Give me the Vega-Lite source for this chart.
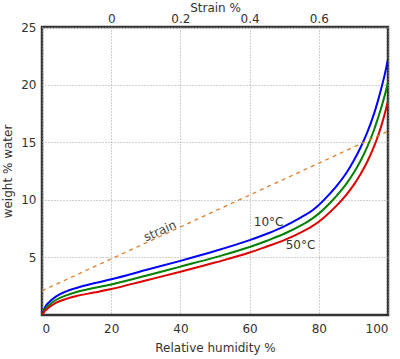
{
  "$schema": "https://vega.github.io/schema/vega-lite/v6.json",
  "autosize": {"type": "none"},
  "padding": {"left": 42, "top": 27, "right": 12, "bottom": 44},
  "width": 346,
  "height": 288,
  "background": "white",
  "config": {
    "font": "DejaVu Sans",
    "view": {"stroke": "#333333", "strokeWidth": 2.5},
    "axis": {
      "labelFont": "DejaVu Sans",
      "titleFont": "DejaVu Sans",
      "labelFontSize": 12,
      "titleFontSize": 12,
      "labelColor": "#333333",
      "titleColor": "#333333",
      "titleFontWeight": "normal",
      "domain": false,
      "ticks": false,
      "gridColor": "#a0a0a0",
      "gridDash": [1, 2],
      "gridWidth": 1
    }
  },
  "datasets": {
    "curves": [
      {"rh": 0, "w": 0, "t": "10"}, {"rh": 1, "w": 0.75, "t": "10"}, {"rh": 2, "w": 1.1, "t": "10"}, {"rh": 4, "w": 1.6, "t": "10"}, {"rh": 7, "w": 2.05, "t": "10"}, {"rh": 10, "w": 2.35, "t": "10"}, {"rh": 15, "w": 2.75, "t": "10"}, {"rh": 20, "w": 3.1, "t": "10"}, {"rh": 30, "w": 3.9, "t": "10"}, {"rh": 40, "w": 4.7, "t": "10"}, {"rh": 50, "w": 5.55, "t": "10"}, {"rh": 60, "w": 6.5, "t": "10"}, {"rh": 65, "w": 7.05, "t": "10"}, {"rh": 70, "w": 7.7, "t": "10"}, {"rh": 75, "w": 8.5, "t": "10"}, {"rh": 78, "w": 9.05, "t": "10"}, {"rh": 80, "w": 9.55, "t": "10"}, {"rh": 82, "w": 10.15, "t": "10"}, {"rh": 85, "w": 11.15, "t": "10"}, {"rh": 88, "w": 12.35, "t": "10"}, {"rh": 90, "w": 13.35, "t": "10"}, {"rh": 92, "w": 14.5, "t": "10"}, {"rh": 94, "w": 15.85, "t": "10"}, {"rh": 96, "w": 17.5, "t": "10"}, {"rh": 97, "w": 18.5, "t": "10"}, {"rh": 98, "w": 19.6, "t": "10"}, {"rh": 99, "w": 20.8, "t": "10"}, {"rh": 100, "w": 22.2, "t": "10"},
      {"rh": 0, "w": 0, "t": "30"}, {"rh": 1, "w": 0.55, "t": "30"}, {"rh": 2, "w": 0.85, "t": "30"}, {"rh": 4, "w": 1.3, "t": "30"}, {"rh": 7, "w": 1.7, "t": "30"}, {"rh": 10, "w": 2.0, "t": "30"}, {"rh": 15, "w": 2.35, "t": "30"}, {"rh": 20, "w": 2.65, "t": "30"}, {"rh": 30, "w": 3.4, "t": "30"}, {"rh": 40, "w": 4.2, "t": "30"}, {"rh": 50, "w": 5.0, "t": "30"}, {"rh": 60, "w": 5.9, "t": "30"}, {"rh": 65, "w": 6.45, "t": "30"}, {"rh": 70, "w": 7.05, "t": "30"}, {"rh": 75, "w": 7.8, "t": "30"}, {"rh": 78, "w": 8.35, "t": "30"}, {"rh": 80, "w": 8.8, "t": "30"}, {"rh": 82, "w": 9.35, "t": "30"}, {"rh": 85, "w": 10.3, "t": "30"}, {"rh": 88, "w": 11.4, "t": "30"}, {"rh": 90, "w": 12.3, "t": "30"}, {"rh": 92, "w": 13.35, "t": "30"}, {"rh": 94, "w": 14.6, "t": "30"}, {"rh": 96, "w": 16.1, "t": "30"}, {"rh": 97, "w": 17.0, "t": "30"}, {"rh": 98, "w": 17.95, "t": "30"}, {"rh": 99, "w": 19.0, "t": "30"}, {"rh": 100, "w": 20.2, "t": "30"},
      {"rh": 0, "w": 0, "t": "50"}, {"rh": 1, "w": 0.4, "t": "50"}, {"rh": 2, "w": 0.65, "t": "50"}, {"rh": 4, "w": 1.05, "t": "50"}, {"rh": 7, "w": 1.4, "t": "50"}, {"rh": 10, "w": 1.65, "t": "50"}, {"rh": 15, "w": 1.95, "t": "50"}, {"rh": 20, "w": 2.25, "t": "50"}, {"rh": 30, "w": 3.0, "t": "50"}, {"rh": 40, "w": 3.75, "t": "50"}, {"rh": 50, "w": 4.55, "t": "50"}, {"rh": 60, "w": 5.42, "t": "50"}, {"rh": 65, "w": 5.95, "t": "50"}, {"rh": 70, "w": 6.5, "t": "50"}, {"rh": 75, "w": 7.2, "t": "50"}, {"rh": 78, "w": 7.7, "t": "50"}, {"rh": 80, "w": 8.1, "t": "50"}, {"rh": 82, "w": 8.6, "t": "50"}, {"rh": 85, "w": 9.45, "t": "50"}, {"rh": 88, "w": 10.45, "t": "50"}, {"rh": 90, "w": 11.25, "t": "50"}, {"rh": 92, "w": 12.2, "t": "50"}, {"rh": 94, "w": 13.3, "t": "50"}, {"rh": 96, "w": 14.65, "t": "50"}, {"rh": 97, "w": 15.45, "t": "50"}, {"rh": 98, "w": 16.35, "t": "50"}, {"rh": 99, "w": 17.4, "t": "50"}, {"rh": 100, "w": 18.6, "t": "50"}
    ],
    "strain": [
      {"rh": 0, "w": 2.1},
      {"rh": 100, "w": 15.95}
    ],
    "labels": [
      {"rh": 65.5, "w": 7.75, "text": "10°C"},
      {"rh": 74.7, "w": 5.7, "text": "50°C"}
    ],
    "strainlabel": [
      {"rh": 34.1, "w": 7.3, "text": "strain"}
    ],
    "topaxis": [
      {"s": -0.2},
      {"s": 0.8}
    ]
  },
  "layer": [
    {
      "layer": [
        {
          "data": {"name": "curves"},
          "mark": {"type": "line", "strokeWidth": 2, "interpolate": "monotone", "clip": true},
          "encoding": {
            "x": {"field": "rh", "type": "quantitative", "scale": {"domain": [0, 100], "nice": false},
                  "axis": {"orient": "bottom", "values": [0, 20, 40, 60, 80, 100], "title": "Relative humidity %", "titlePadding": 8, "labelPadding": 8, "grid": true}},
            "y": {"field": "w", "type": "quantitative", "scale": {"domain": [0, 25], "nice": false},
                  "axis": {"values": [5, 10, 15, 20, 25], "title": "weight % water", "titlePadding": 6, "labelPadding": 6, "grid": true}},
            "color": {"field": "t", "type": "nominal", "legend": null,
                      "scale": {"domain": ["10", "30", "50"], "range": ["#0000ff", "#008000", "#dd0000"]}}
          }
        },
        {
          "data": {"name": "strain"},
          "mark": {"type": "line", "strokeWidth": 1.3, "color": "#e0802a", "strokeDash": [4, 4]},
          "encoding": {
            "x": {"field": "rh", "type": "quantitative"},
            "y": {"field": "w", "type": "quantitative"}
          }
        },
        {
          "data": {"name": "labels"},
          "mark": {"type": "text", "fontSize": 12, "color": "#333333", "align": "center", "baseline": "alphabetic"},
          "encoding": {
            "x": {"field": "rh", "type": "quantitative"},
            "y": {"field": "w", "type": "quantitative"},
            "text": {"field": "text"}
          }
        },
        {
          "data": {"name": "strainlabel"},
          "mark": {"type": "text", "fontSize": 12, "color": "#444444", "align": "center", "baseline": "middle", "angle": 336},
          "encoding": {
            "x": {"field": "rh", "type": "quantitative"},
            "y": {"field": "w", "type": "quantitative"},
            "text": {"field": "text"}
          }
        }
      ]
    },
    {
      "data": {"name": "topaxis"},
      "mark": {"type": "point", "opacity": 0},
      "encoding": {
        "x": {"field": "s", "type": "quantitative", "scale": {"domain": [-0.2, 0.8], "nice": false},
              "axis": {"orient": "top", "values": [0, 0.2, 0.4, 0.6], "format": ".1~f", "title": "Strain %", "titlePadding": -2, "labelPadding": 2, "grid": false}}
      }
    }
  ],
  "resolve": {"scale": {"x": "independent"}, "axis": {"x": "independent"}}
}
